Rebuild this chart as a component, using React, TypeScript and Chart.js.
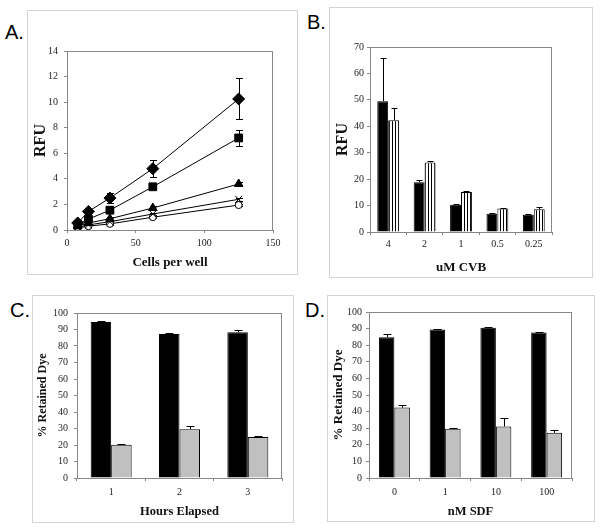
import React, { useEffect, useRef } from 'react';
import { Chart, registerables } from 'chart.js';
Chart.register(...registerables);

// ---------- Panel A data ----------
const cellsPerWell = [7.8, 15.6, 31.25, 62.5, 125];
const aDiamond = [0.55, 1.45, 2.5, 4.8, 10.25];
const aDiamondErr = [0.1, 0.2, 0.4, 0.65, 1.6];
const aSquare = [0.4, 0.85, 1.55, 3.38, 7.2];
const aSquareErr = [0.05, 0.1, 0.15, 0.15, 0.65];
const aTriangle = [0.3, 0.55, 0.88, 1.72, 3.6];
const aTriangleErr = [0.05, 0.05, 0.1, 0.15, 0.15];
const aCross = [0.2, 0.4, 0.65, 1.25, 2.4];
const aCrossErr = [0.03, 0.05, 0.05, 0.1, 0.1];
const aCircle = [0.15, 0.3, 0.48, 1.0, 1.95];
const aCircleErr = [0.03, 0.05, 0.05, 0.1, 0.1];

// ---------- Panel B data ----------
const cvbLabels = ['4', '2', '1', '0.5', '0.25'];
const bSolid = [49.5, 18.8, 10.3, 6.9, 6.5];
const bSolidErr = [16.5, 0.9, 0.2, 0.2, 0.2];
const bStriped = [42.3, 26.3, 15.1, 8.9, 8.6];
const bStripedErr = [4.7, 0.6, 0.4, 0.2, 1.0];

// ---------- Panel C data ----------
const hoursLabels = ['1', '2', '3'];
const cBlack = [94.5, 87.3, 88.3];
const cBlackErr = [0.5, 0.3, 1.2];
const cGray = [20.2, 29.6, 24.8];
const cGrayErr = [0.4, 1.8, 0.8];

// ---------- Panel D data ----------
const sdfLabels = ['0', '1', '10', '100'];
const dBlack = [84.8, 89.5, 90.5, 87.7];
const dBlackErr = [1.8, 0.2, 0.4, 0.2];
const dGray = [42.4, 29.7, 31.0, 27.2];
const dGrayErr = [1.3, 0.4, 5.2, 2.0];

const SERIF = 'Liberation Serif';
const tickFont = { family: SERIF, size: 10 };

const framePlugin = {
  id: 'frame',
  afterDraw(chart: any) {
    const { ctx, chartArea: a } = chart;
    ctx.save();
    ctx.strokeStyle = '#888';
    ctx.lineWidth = 1;
    ctx.strokeRect(Math.round(a.left) + 0.5, Math.round(a.top) + 0.5, Math.round(a.right - a.left) - 1, Math.round(a.bottom - a.top));
    ctx.restore();
  },
};

function drawErrors(chart: any) {
  const ctx = chart.ctx;
  const yScale = chart.scales.y;
  chart.data.datasets.forEach((ds: any, di: number) => {
    const errs = ds.errors;
    if (!errs) return;
    const meta = chart.getDatasetMeta(di);
    meta.data.forEach((el: any, i: number) => {
      const d = ds.data[i];
      const v = typeof d === 'number' ? d : d.y;
      const e = errs[i];
      if (!e) return;
      const x = Math.round(el.x) + 0.5;
      const cap = ds.errCap || 3.5;
      ctx.save();
      ctx.strokeStyle = '#000';
      ctx.lineWidth = 1;
      ctx.beginPath();
      const yTop = Math.round(yScale.getPixelForValue(v + e)) + 0.5;
      const yMid = yScale.getPixelForValue(v);
      ctx.moveTo(x, yMid);
      ctx.lineTo(x, yTop);
      ctx.moveTo(x - cap, yTop);
      ctx.lineTo(x + cap, yTop);
      if (ds.errBoth) {
        const yBot = Math.round(yScale.getPixelForValue(Math.max(0, v - e))) + 0.5;
        ctx.moveTo(x, yMid);
        ctx.lineTo(x, yBot);
        ctx.moveTo(x - cap, yBot);
        ctx.lineTo(x + cap, yBot);
      }
      ctx.stroke();
      ctx.restore();
    });
  });
}

const errorBarPlugin = {
  id: 'errorBars',
  beforeDatasetsDraw(chart: any) {
    if (chart.config.type === 'line') drawErrors(chart);
  },
  afterDatasetsDraw(chart: any) {
    if (chart.config.type !== 'line') drawErrors(chart);
  },
};

function yAxis(max: number, step: number, title: string, titleSize: number, width: number, pad: number) {
  return {
    min: 0,
    max,
    ticks: { stepSize: step, color: '#222', font: tickFont, padding: pad },
    grid: { drawOnChartArea: false, tickLength: 3, color: '#888' },
    border: { color: '#888' },
    title: {
      display: true,
      text: title,
      color: '#111',
      font: { family: SERIF, size: titleSize, weight: 'bold' },
      padding: { top: 4, bottom: 4 },
    },
    afterFit: (s: any) => {
      s.width = width;
    },
  };
}

function xCategory(title: string, titleSize: number, height: number, pad: number, titlePadBottom: number) {
  return {
    type: 'category',
    ticks: { color: '#222', font: tickFont, padding: pad },
    grid: { drawOnChartArea: false, tickLength: 3, color: '#888', offset: true },
    border: { color: '#888' },
    title: {
      display: true,
      text: title,
      color: '#111',
      font: { family: SERIF, size: titleSize, weight: 'bold' },
      padding: { top: 0, bottom: titlePadBottom },
    },
    afterFit: (s: any) => {
      s.height = height;
    },
  };
}

const baseOptions = {
  responsive: false,
  animation: false,
  plugins: { legend: { display: false }, tooltip: { enabled: false } },
};

function makeA() {
  const series = [
    { data: aDiamond, err: aDiamondErr, style: 'rectRot', r: 6, fill: '#000' },
    { data: aSquare, err: aSquareErr, style: 'rect', r: 5.5, fill: '#000' },
    { data: aTriangle, err: aTriangleErr, style: 'triangle', r: 5, fill: '#000' },
    { data: aCross, err: aCrossErr, style: 'crossRot', r: 5, fill: '#000' },
    { data: aCircle, err: aCircleErr, style: 'circle', r: 3.5, fill: '#fff' },
  ];
  return {
    type: 'line',
    data: {
      datasets: series.map((s) => ({
        data: cellsPerWell.map((x, i) => ({ x, y: s.data[i] })),
        errors: s.err,
        errBoth: true,
        errCap: 3.5,
        borderColor: '#000',
        borderWidth: 1,
        pointStyle: s.style,
        pointRadius: s.r,
        pointBackgroundColor: s.fill,
        pointBorderColor: '#000',
        pointBorderWidth: 1,
        fill: false,
        tension: 0,
      })),
    },
    options: {
      ...baseOptions,
      layout: { padding: { left: 0, right: 24, top: 41, bottom: 0 } },
      scales: {
        x: {
          type: 'linear',
          min: 0,
          max: 150,
          ticks: { stepSize: 50, color: '#222', font: tickFont, padding: 4 },
          grid: { drawOnChartArea: false, tickLength: 3, color: '#888' },
          border: { color: '#888' },
          title: {
            display: true,
            text: 'Cells per well',
            color: '#111',
            font: { family: SERIF, size: 13, weight: 'bold' },
            padding: { top: 0, bottom: 4 },
          },
          afterFit: (s: any) => {
            s.height = 44;
          },
        },
        y: yAxis(14, 2, 'RFU', 16, 40, 6),
      },
    },
    plugins: [framePlugin, errorBarPlugin],
  };
}

function makeStripePattern() {
  const c = document.createElement('canvas');
  c.width = 3;
  c.height = 4;
  const g = c.getContext('2d')!;
  g.fillStyle = '#fff';
  g.fillRect(0, 0, 3, 4);
  g.fillStyle = '#000';
  g.fillRect(0, 0, 1, 4);
  return g.createPattern(c, 'repeat');
}

function makeB() {
  return {
    type: 'bar',
    data: {
      labels: cvbLabels,
      datasets: [
        {
          data: bSolid,
          errors: bSolidErr,
          errCap: 3,
          backgroundColor: '#000',
          borderColor: '#000',
          borderWidth: 1,
          categoryPercentage: 0.6,
          barPercentage: 1,
        },
        {
          data: bStriped,
          errors: bStripedErr,
          errCap: 3,
          backgroundColor: makeStripePattern(),
          borderColor: '#000',
          borderWidth: 1,
          categoryPercentage: 0.6,
          barPercentage: 1,
        },
      ],
    },
    options: {
      ...baseOptions,
      layout: { padding: { left: 0, right: 40, top: 40, bottom: 0 } },
      scales: {
        x: xCategory('uM CVB', 13, 45, 3, 2),
        y: yAxis(70, 10, 'RFU', 16, 41, 3),
      },
    },
    plugins: [framePlugin, errorBarPlugin],
  };
}

function makeGrouped(labels: string[], black: number[], blackErr: number[], gray: number[], grayErr: number[], xTitle: string, opts: any) {
  return {
    type: 'bar',
    data: {
      labels,
      datasets: [
        {
          data: black,
          errors: blackErr,
          errCap: 4,
          backgroundColor: '#000',
          borderColor: '#000',
          borderWidth: 1,
          categoryPercentage: opts.cat,
          barPercentage: 1,
        },
        {
          data: gray,
          errors: grayErr,
          errCap: 4,
          backgroundColor: '#c0c0c0',
          borderColor: '#000',
          borderWidth: 1,
          categoryPercentage: opts.cat,
          barPercentage: 1,
        },
      ],
    },
    options: {
      ...baseOptions,
      layout: { padding: { left: 0, right: opts.right, top: opts.top, bottom: 0 } },
      scales: {
        x: xCategory(xTitle, 12.5, opts.xh, 5, opts.tpb),
        y: yAxis(100, 10, '% Retained Dye', opts.yts, opts.yw, opts.ypad),
      },
    },
    plugins: [framePlugin, errorBarPlugin],
  };
}

function ChartCanvas({ left, top, width, height, make }: any) {
  const ref = useRef<HTMLCanvasElement>(null);
  useEffect(() => {
    const chart = new Chart(ref.current as HTMLCanvasElement, make() as any);
    return () => chart.destroy();
  }, []);
  return (
    <canvas
      ref={ref}
      width={width}
      height={height}
      style={{ position: 'absolute', left, top, width, height }}
    />
  );
}

function Box({ left, top, width, height }: any) {
  return (
    <div
      style={{
        position: 'absolute',
        left,
        top,
        width: width - 2,
        height: height - 2,
        border: '1px solid #d4d4d4',
      }}
    />
  );
}

function Letter({ left, top, text }: any) {
  return (
    <div
      style={{
        position: 'absolute',
        left,
        top,
        fontFamily: 'Liberation Sans',
        fontSize: 20,
        lineHeight: '20px',
        color: '#000',
      }}
    >
      {text}
    </div>
  );
}

export default function App() {
  return (
    <div
      style={{
        position: 'fixed',
        left: 0,
        top: 0,
        width: 600,
        height: 529,
        background: '#fff',
        overflow: 'hidden',
      }}
    >
      <Box left={27} top={10} width={271} height={265} />
      <Box left={329} top={7} width={264} height={271} />
      <Box left={32} top={295} width={262} height={228} />
      <Box left={327} top={295} width={268} height={227} />

      <ChartCanvas left={27} top={10} width={270} height={264} make={makeA} />
      <ChartCanvas left={329} top={7} width={263} height={270} make={makeB} />
      <ChartCanvas
        left={32}
        top={295}
        width={261}
        height={227}
        make={() =>
          makeGrouped(hoursLabels, cBlack, cBlackErr, cGray, cGrayErr, 'Hours Elapsed', {
            cat: 0.6, right: 11, top: 18, xh: 44, tpb: 3, yts: 12, yw: 45, ypad: 6,
          })
        }
      />
      <ChartCanvas
        left={327}
        top={295}
        width={267}
        height={226}
        make={() =>
          makeGrouped(sdfLabels, dBlack, dBlackErr, dGray, dGrayErr, 'nM SDF', {
            cat: 0.61, right: 22, top: 17, xh: 43, tpb: 2, yts: 13, yw: 42, ypad: 4,
          })
        }
      />

      <Letter left={5} top={22} text="A." />
      <Letter left={307} top={12} text="B." />
      <Letter left={10} top={300} text="C." />
      <Letter left={305} top={300} text="D." />
    </div>
  );
}
